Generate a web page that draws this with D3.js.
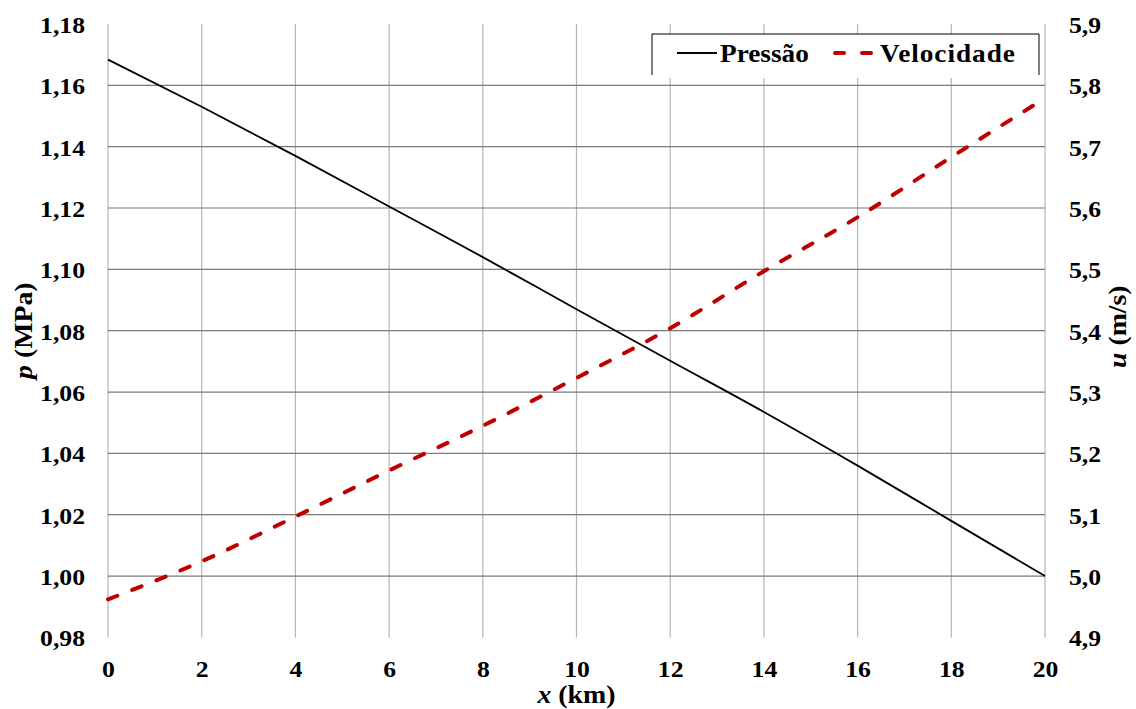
<!DOCTYPE html>
<html>
<head>
<meta charset="utf-8">
<script src="https://cdn.jsdelivr.net/npm/d3@7"></script>
<style>
  html, body { margin: 0; padding: 0; background: #fff; }
  svg { display: block; }
</style>
</head>
<body>
<svg id="chart" width="1136" height="709"></svg>
<script>
// Distance along the pipeline (km)
const distance = [0, 2, 4, 6, 8, 10, 12, 14, 16, 18, 20];
// Pressure p (MPa)
const pressure = [1.1684, 1.1530, 1.1370, 1.1205, 1.1040, 1.0870, 1.0702, 1.0535, 1.0360, 1.0180, 1.0000];
// Flow velocity u (m/s)
const velocity = [4.962, 5.024, 5.097, 5.172, 5.245, 5.323, 5.404, 5.497, 5.585, 5.683, 5.779];

const xTicks = [0, 2, 4, 6, 8, 10, 12, 14, 16, 18, 20];
const pTicks = [0.98, 1.00, 1.02, 1.04, 1.06, 1.08, 1.10, 1.12, 1.14, 1.16, 1.18];
const uTicks = [4.9, 5.0, 5.1, 5.2, 5.3, 5.4, 5.5, 5.6, 5.7, 5.8, 5.9];
const seriesNames = ["Pressão", "Velocidade"];

const FONT = '"Liberation Serif", "Times New Roman", Tinos, serif';
const SX = 1.07; // glyphs in this figure are slightly wide

const svg = d3.select("#chart");
const plotL = 108, plotR = 1045, plotT = 24, plotB = 637.4;

const x = d3.scaleLinear().domain([0, 20]).range([plotL, plotR]);
const yP = d3.scaleLinear().domain([0.98, 1.18]).range([plotB, plotT]);
const yU = d3.scaleLinear().domain([4.9, 5.9]).range([plotB, plotT]);

const comma = v => v.toString().replace(".", ",");
const fmtP = v => d3.format(".2f")(v).replace(".", ",");
const fmtU = v => d3.format(".1f")(v).replace(".", ",");

function boldText(sel, size) {
  return sel.style("font-family", FONT).style("font-weight", "bold")
    .style("font-size", size + "px").attr("fill", "#000");
}

// vertical grid
svg.append("g").selectAll("line").data(xTicks).join("line")
  .attr("x1", d => x(d)).attr("x2", d => x(d))
  .attr("y1", plotT).attr("y2", plotB)
  .attr("stroke", "#b4b4b4").attr("stroke-width", 1.2);

// horizontal grid (interior values only)
svg.append("g").selectAll("line").data(pTicks.slice(1, -1)).join("line")
  .attr("x1", plotL).attr("x2", plotR)
  .attr("y1", d => yP(d)).attr("y2", d => yP(d))
  .attr("stroke", "#7a7a7a").attr("stroke-width", 1.2);

// axes: labels only, no domain line or tick marks
function styleAxis(g) {
  g.select(".domain").remove();
  g.selectAll(".tick line").remove();
  boldText(g.selectAll(".tick text"), 24);
}

svg.append("g").attr("transform", `translate(0,${plotB})`)
  .call(d3.axisBottom(x).tickValues(xTicks).tickFormat(comma).tickSize(0).tickPadding(0))
  .call(styleAxis)
  .call(g => g.selectAll(".tick text").attr("dy", null).attr("y", 0)
    .attr("transform", `translate(0,40) scale(${SX},1)`));

svg.append("g").attr("transform", `translate(${plotL},0)`)
  .call(d3.axisLeft(yP).tickValues(pTicks).tickFormat(fmtP).tickSize(0).tickPadding(0))
  .call(styleAxis)
  .call(g => g.selectAll(".tick text").attr("x", 0).attr("dy", "0.35em")
    .attr("transform", `translate(-23,0) scale(${SX},1)`));

svg.append("g").attr("transform", `translate(${plotR},0)`)
  .call(d3.axisRight(yU).tickValues(uTicks).tickFormat(fmtU).tickSize(0).tickPadding(0))
  .call(styleAxis)
  .call(g => g.selectAll(".tick text").attr("x", 0).attr("dy", "0.35em")
    .attr("transform", `translate(24,0) scale(${SX},1)`));

// series
const lineP = d3.line().x((d, i) => x(distance[i])).y(d => yP(d)).curve(d3.curveMonotoneX);
const lineU = d3.line().x((d, i) => x(distance[i])).y(d => yU(d)).curve(d3.curveMonotoneX);

svg.append("path").datum(pressure)
  .attr("d", lineP).attr("fill", "none")
  .attr("stroke", "#000").attr("stroke-width", 1.8);

svg.append("path").datum(velocity)
  .attr("d", lineU).attr("fill", "none")
  .attr("stroke", "#c00000").attr("stroke-width", 4)
  .attr("stroke-linecap", "round")
  .attr("stroke-dasharray", "10,16");

// axis titles
const tx = boldText(svg.append("text"), 26).attr("text-anchor", "middle")
  .attr("transform", `translate(${(plotL + plotR) / 2},703) scale(${SX},1)`);
tx.append("tspan").style("font-style", "italic").text("x");
tx.append("tspan").text(" (km)");

const tp = boldText(svg.append("text"), 26).attr("text-anchor", "middle")
  .attr("transform", `translate(32,${(plotT + plotB) / 2}) rotate(-90) scale(${SX},1)`);
tp.append("tspan").style("font-style", "italic").text("p");
tp.append("tspan").text(" (MPa)");

const tu = boldText(svg.append("text"), 26).attr("text-anchor", "middle")
  .attr("transform", `translate(1126,${(plotT + plotB) / 2 - 4}) rotate(-90) scale(${SX},1)`);
tu.append("tspan").style("font-style", "italic").text("u");
tu.append("tspan").text(" (m/s)");

// legend
const lg = svg.append("g");
lg.append("rect").attr("x", 652).attr("y", 34).attr("width", 387).attr("height", 44).attr("fill", "#fff");
lg.append("path").attr("d", "M652,75V34H1039V75").attr("fill", "none").attr("stroke", "#000").attr("stroke-width", 1);
lg.append("line").attr("x1", 677).attr("x2", 717).attr("y1", 53).attr("y2", 53)
  .attr("stroke", "#000").attr("stroke-width", 1.8);
boldText(lg.append("text"), 25.5)
  .attr("transform", `translate(720,62) scale(${SX},1)`).text(seriesNames[0]);
lg.append("line").attr("x1", 835).attr("x2", 873).attr("y1", 53).attr("y2", 53)
  .attr("stroke", "#c00000").attr("stroke-width", 4)
  .attr("stroke-linecap", "round").attr("stroke-dasharray", "9,18");
boldText(lg.append("text"), 25.5)
  .style("letter-spacing", "0.9px")
  .attr("transform", `translate(880,62) scale(${SX},1)`).text(seriesNames[1]);
</script>
</body>
</html>
